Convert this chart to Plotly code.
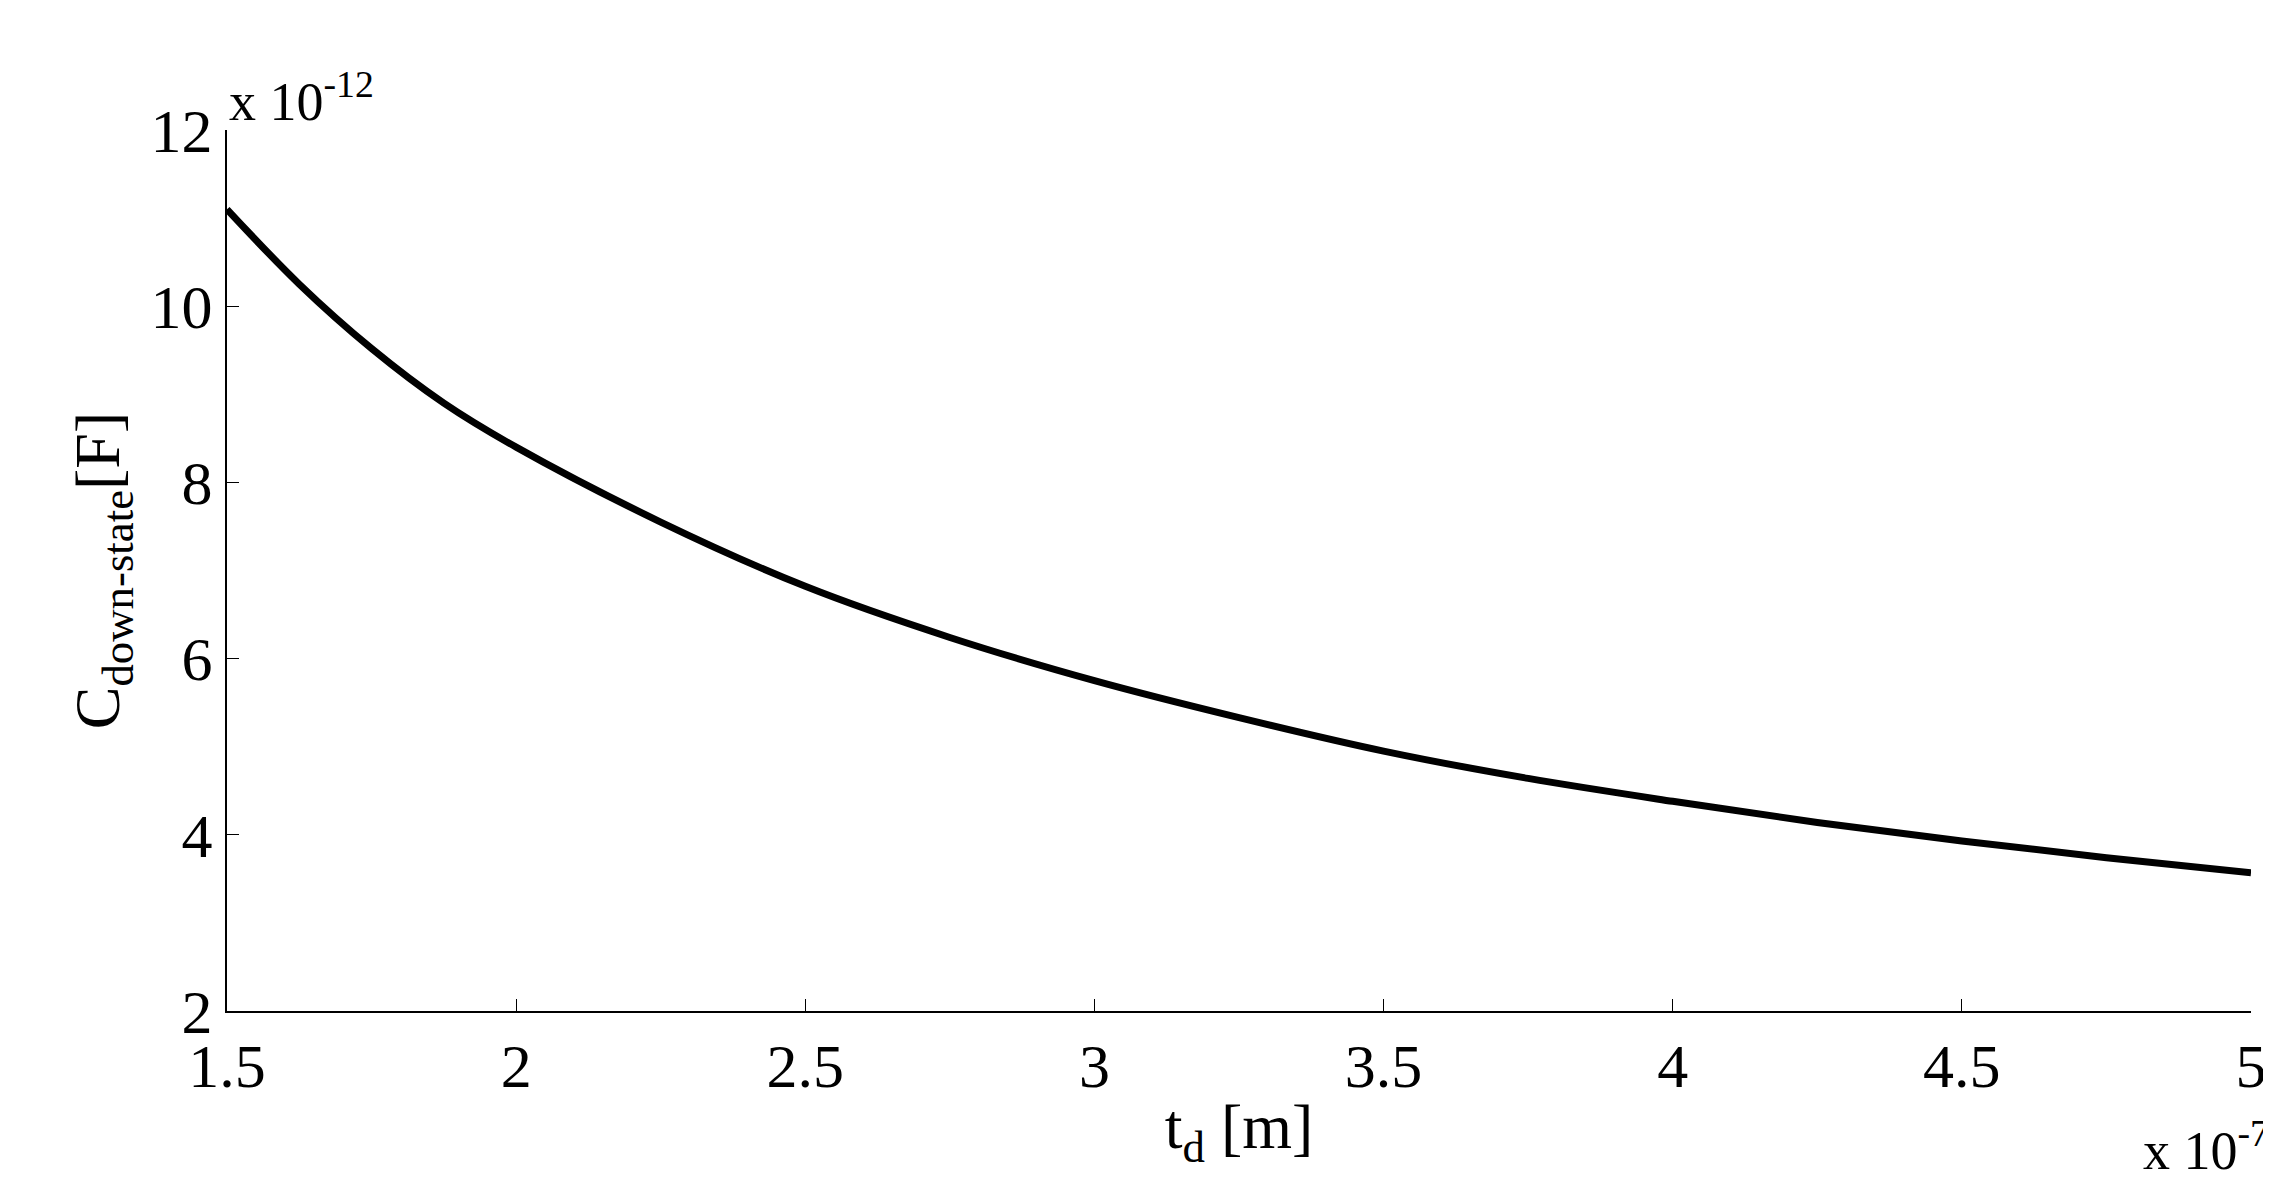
import plotly.graph_objects as go

# thickness t_d (x 1e-7 m) and capacitance (x 1e-12 F)
td = [1.5, 1.625, 1.75, 1.875, 2.0, 2.25, 2.5, 2.75, 3.0, 3.25, 3.5, 3.75, 4.0, 4.25, 4.5, 4.75, 5.0]
cap = [11.1, 10.25, 9.52, 8.9, 8.4, 7.55, 6.82, 6.24, 5.75, 5.33, 4.95, 4.64, 4.38, 4.14, 3.93, 3.74, 3.57]

xticks = [1.5, 2, 2.5, 3, 3.5, 4, 4.5, 5]
yticks = [2, 4, 6, 8, 10, 12]

font = "Liberation Serif"
fig = go.Figure(go.Scatter(x=td, y=cap, mode="lines", line=dict(color="black", width=7, shape="spline")))

axis = dict(showline=True, linecolor="black", linewidth=2, mirror=False, showgrid=False, zeroline=False,
            ticks="inside", ticklen=12, tickcolor="black", tickfont=dict(family=font, size=62, color="black"))
fig.update_xaxes(**axis, range=[1.5, 5], tickvals=xticks, ticktext=[str(v) for v in xticks],
                 title=dict(text="t<sub>d</sub> [m]", font=dict(family=font, size=64, color="black"), standoff=4))
fig.update_yaxes(**axis, range=[2, 12], tickvals=yticks,
                 title=dict(text="C<sub>down-state</sub>[F]", font=dict(family=font, size=64, color="black"), standoff=10))

fig.add_annotation(text="x 10<sup>-12</sup>", xref="paper", yref="paper", x=0, y=0.995, xanchor="left", yanchor="bottom",
                   showarrow=False, font=dict(family=font, size=54, color="black"))
fig.add_annotation(text="x 10<sup>-7</sup>", xref="paper", yref="paper", x=1.01, y=-0.195, xanchor="right", yanchor="bottom",
                   showarrow=False, font=dict(family=font, size=54, color="black"))

fig.update_layout(width=2271, height=1183, margin=dict(l=219, r=23, t=122, b=180),
                  plot_bgcolor="white", paper_bgcolor="white", showlegend=False)
fig.write_html("out.html")
